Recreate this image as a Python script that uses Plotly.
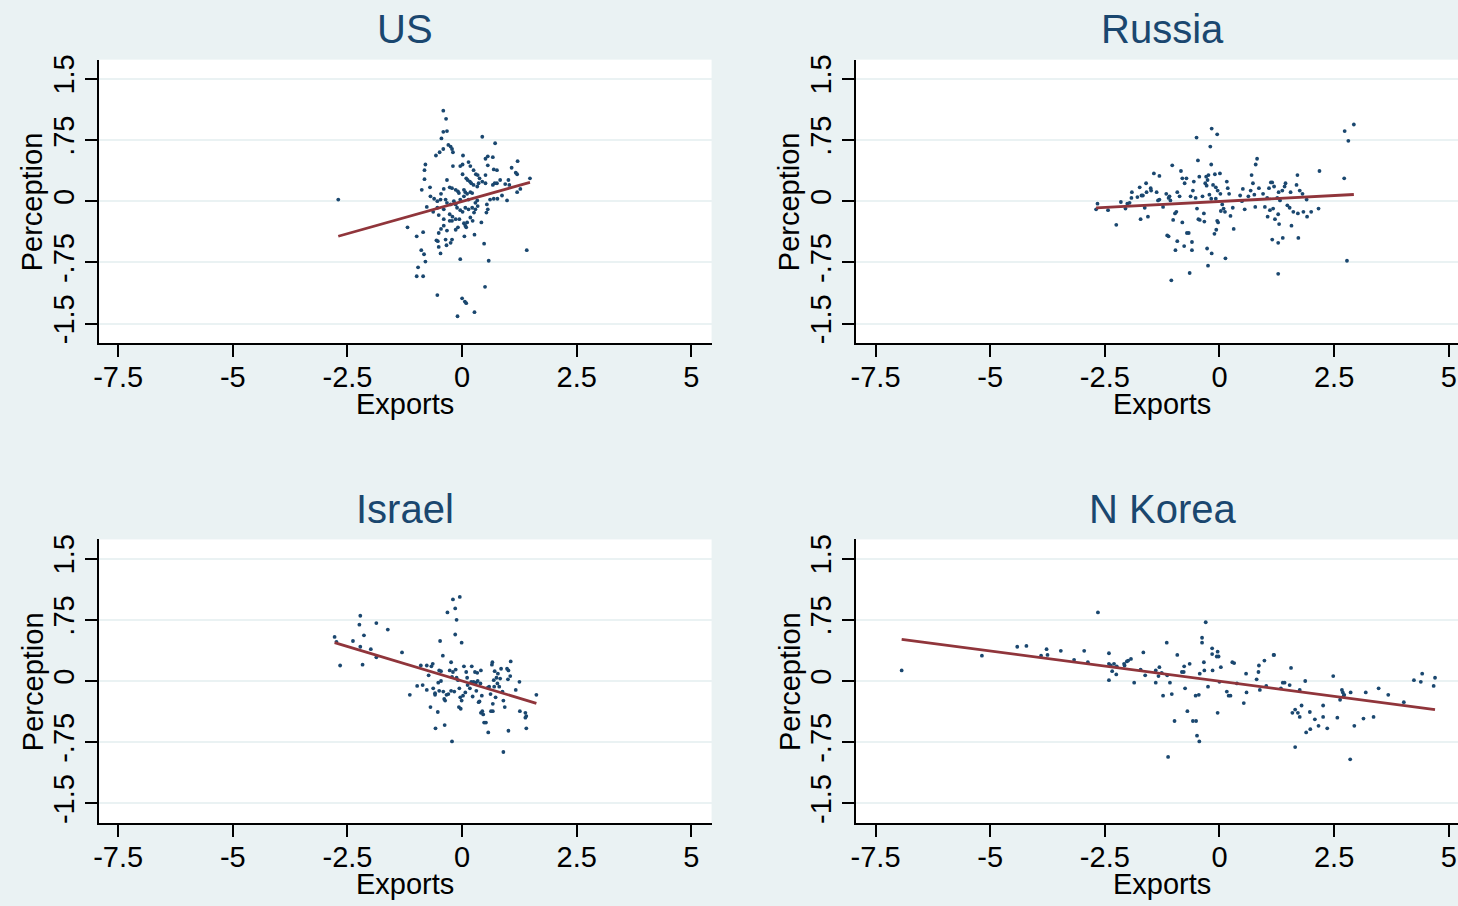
import plotly.graph_objects as go

# ---------------- data ----------------
us_x = [-2.70, -0.41, -0.35, -0.41, -0.33, -0.45, 0.44, 0.72, -0.30, -0.25, -0.22, -0.20, -0.49, -0.41, -0.57, 0.02,
        0.56, 0.67, 0.51, 1.21, -0.80, -0.20, -0.04, 0.01, 0.14, 0.18, 0.56, -0.82, -0.82, 0.25, 0.30, 0.34, 0.69,
        0.76, 1.08, 1.17, 1.20, 0.01, 0.09, 0.12, 0.51, -0.33, 0.17, 0.20, 0.38, 0.25, 0.36, 0.44, 0.33, 0.51, 0.67,
        0.71, 0.76, 0.83, 0.94, 1.03, 1.01, 1.48, 1.27, 1.20, -0.70, -0.88, -0.27, -0.22, -0.40, -0.46, -0.14, -0.09,
        -0.07, 0.04, 0.07, 0.11, 0.18, -0.69, -0.61, -0.54, -0.47, -0.36, -0.33, -0.25, -0.18, -0.14, -0.04, 0.04,
        0.14, 0.22, 0.29, 0.33, 0.61, 0.69, 0.77, 0.87, 0.98, 0.54, 0.56, 0.53, -0.77, -0.63, -0.54, -0.51, -0.40,
        -0.27, -0.21, -0.14, -0.22, -0.27, -0.11, -0.04, 0.01, 0.07, 0.14, 0.22, 0.29, 0.34, 0.26, 0.18, 0.23, -0.06,
        0.04, 0.07, 0.11, 0.09, -0.09, -0.14, 0.05, 0.42, -0.40, -0.40, -0.33, -0.46, -0.51, -1.19, -0.85, -0.99,
        -0.56, -0.53, -0.36, -0.22, -0.25, -0.34, -0.51, 0.27, 0.48, -0.89, -0.83, -0.80, -0.47, -0.04, 0.58, 1.41,
        -0.96, -0.99, -0.85, 0.50, -0.54, 0.00, 0.06, 0.09, 0.27, -0.10]
us_y = [0.02, 1.11, 1.01, 0.85, 0.86, 0.77, 0.79, 0.71, 0.69, 0.67, 0.64, 0.60, 0.60, 0.64, 0.56, 0.56,
        0.55, 0.54, 0.52, 0.49, 0.45, 0.43, 0.43, 0.45, 0.48, 0.43, 0.44, 0.38, 0.27, 0.38, 0.33, 0.32, 0.39,
        0.38, 0.41, 0.35, 0.33, 0.33, 0.28, 0.26, 0.32, 0.26, 0.24, 0.22, 0.28, 0.20, 0.22, 0.24, 0.18, 0.22, 0.20,
        0.22, 0.22, 0.26, 0.21, 0.20, 0.26, 0.28, 0.15, 0.11, 0.17, 0.14, 0.17, 0.16, 0.15, 0.09, 0.14, 0.12,
        0.10, 0.14, 0.11, 0.09, 0.11, 0.06, 0.03, 0.00, 0.02, 0.02, -0.02, -0.04, 0.00, -0.04, 0.02, 0.06,
        0.02, 0.10, -0.02, 0.01, 0.02, 0.03, 0.03, 0.07, 0.01, -0.04, -0.10, -0.14, -0.07, -0.13, -0.08, -0.17, -0.10,
        -0.16, -0.19, -0.22, -0.24, -0.24, -0.08, -0.11, -0.13, -0.08, -0.10, -0.08, -0.10, -0.06, -0.14, -0.20, -0.24, -0.22,
        -0.27, -0.30, -0.26, -0.32, -0.32, -0.35, -0.43, -0.26, -0.22, -0.30, -0.36, -0.34, -0.39, -0.32, -0.38, -0.43,
        -0.48, -0.49, -0.47, -0.47, -0.51, -0.54, -0.56, -0.41, -0.52, -0.60, -0.65, -0.74, -0.64, -0.71, -0.73, -0.60,
        -0.81, -0.92, -0.92, -1.05, -1.15, -1.19, -1.23, -1.25, -1.36, -1.41]

ru_x = [-2.69, -2.66, -2.43, -2.25, -2.15, -2.05, -2.01, -1.96, -1.91, -1.92, -1.79, -1.74, -1.70, -1.67, -1.63, -1.60,
        -1.59, -1.72, -1.56, -1.50, -1.49, -1.43, -1.37, -1.31, -1.34, -1.31, -1.23, -1.16, -1.11, -1.09, -1.07, -1.03,
        -1.01, -0.97, -0.94, -0.92, -0.87, -0.84, -0.81, -0.81, -0.76, -0.72, -1.14, -1.11, -0.92, -0.96, -0.77, -0.71,
        -0.67, -0.60, -0.60, -0.65, -1.05, -0.63, -0.58, -0.56, -0.52, -0.50, -0.47, -0.44, -0.49, -0.46, -0.43, -0.37,
        -0.34, -0.33, -0.31, -0.29, -0.28, -0.26, -0.24, -0.22, -0.20, -0.18, -0.17, -0.18, -0.14, -0.10, -0.08, -0.08,
        -0.05, -0.04, -0.05, -0.03, -0.07, -0.11, 0.01, 0.02, 0.03, 0.06, 0.09, 0.12, 0.16, 0.18, 0.21, 0.24, 0.29, 0.31,
        -0.27, -0.17, -0.25, 0.13, 0.45, 0.49, 0.51, 0.55, 0.63, 0.68, 0.70, 0.73, 0.76, 0.79, 0.82, 0.78, 0.86, 0.95,
        0.99, 1.04, 1.05, 1.08, 1.10, 1.12, 1.15, 1.17, 1.19, 1.21, 1.26, 1.28, 1.29, 1.30, 1.32, 1.37, 1.42, 1.44, 1.48,
        1.53, 1.55, 1.57, 1.61, 1.68, 1.70, 1.71, 1.72, 1.75, 1.81, 1.83, 1.90, 1.91, 2.00, 2.16, 2.18, 1.15, 1.28, 1.38,
        1.28, 2.72, 2.73, 2.81, 2.93, 2.78]
ru_y = [-0.10, -0.03, -0.11, -0.29, -0.01, -0.09, -0.03, -0.02, 0.11, 0.04, 0.05, 0.17, 0.07, 0.07, -0.08, 0.22,
        0.11, -0.22, -0.19, 0.16, 0.13, 0.34, 0.11, 0.31, 0.01, 0.02, -0.07, 0.09, 0.04, 0.06, 0.01, 0.44,
        -0.23, -0.15, -0.13, 0.11, 0.06, 0.37, 0.28, -0.26, 0.22, 0.28, -0.42, -0.43, -0.49, -0.60, -0.55, -0.39,
        -0.39, -0.50, -0.60, -0.88, -0.97, 0.06, 0.13, 0.24, 0.04, 0.78, 0.50, 0.30, -0.09, -0.22, -0.23, 0.06,
        -0.15, -0.25, 0.22, 0.30, 0.19, 0.26, 0.32, 0.08, 0.67, 0.45, 0.89, 0.03, 0.20, 0.33, 0.17, 0.03,
        0.82, 0.13, -0.24, -0.26, -0.35, -0.40, 0.34, 0.09, -0.12, -0.04, -0.09, -0.13, 0.24, 0.16, 0.09, -0.18, -0.08, -0.34,
        -0.58, -0.64, -0.79, -0.70, 0.07, 0.00, 0.15, -0.10, 0.06, 0.13, 0.32, 0.22, 0.08, 0.45, 0.52, -0.07, 0.16, 0.09,
        -0.07, 0.04, -0.19, 0.16, -0.11, 0.23, 0.23, -0.09, 0.18, -0.22, 0.04, -0.16, 0.11, -0.28, 0.01, 0.13, 0.18, 0.22, -0.05,
        -0.08, 0.11, -0.30, -0.13, 0.20, 0.32, -0.15, -0.45, 0.13, 0.09, -0.13, 0.02, -0.19, -0.13, -0.09, 0.37, -0.47, -0.51, -0.45,
        -0.89, 0.28, 0.86, 0.74, 0.94, -0.73]

il_x = [-2.78, -2.74, -2.66, -2.38, -2.22, -2.24, -2.14, -2.22, -2.17, -1.99, -1.87, -1.87, -1.62, -1.31, -1.14, -0.98,
        -0.90, -0.86, -0.77, -0.77, -0.73, -0.67, -0.64, -0.69, -0.63, -0.59, -0.59, -0.53, -0.58, -0.48, -0.42, -0.50,
        -0.46, -0.46, -0.50, -0.52, -0.41, -0.39, -0.34, -0.37, -0.30, -0.27, -0.24, -0.24, -0.22, -0.20, -0.17, -0.14,
        -0.12, -0.09, -0.06, -0.04, -0.07, -0.03, -0.01, 0.02, 0.04, 0.07, 0.09, 0.11, 0.12, 0.17, 0.20, 0.21, 0.23, 0.25,
        0.28, 0.30, 0.31, 0.33, 0.34, 0.36, 0.38, 0.40, 0.41, 0.43, 0.44, 0.41, 0.46, 0.48, 0.52, 0.57, 0.56, 0.59, 0.62,
        0.63, 0.65, 0.66, 0.67, 0.67, 0.69, 0.70, 0.71, 0.73, 0.75, 0.77, 0.78, 0.81, 0.83, 0.85, 0.88, 0.90, 0.93, 0.98,
        1.00, 1.01, 1.05, 1.06, 1.01, 1.17, 1.25, 1.26, 1.38, 1.40, 1.38, 1.40, 1.62, -0.32, -0.20, -0.15, -0.05, -0.12,
        -0.15, -0.01, -0.22, -0.38, 0.90]
il_y = [0.54, 0.48, 0.19, 0.49, 0.80, 0.69, 0.56, 0.42, 0.20, 0.39, 0.71, 0.29, 0.63, 0.35, -0.17, -0.06,
        0.19, -0.05, 0.19, -0.11, 0.07, 0.18, 0.21, -0.32, -0.09, -0.17, -0.15, -0.38, -0.58, 0.49, 0.31, 0.13,
        0.00, 0.12, -0.12, -0.02, -0.13, -0.22, -0.17, -0.24, -0.16, 0.13, 0.23, -0.12, 0.05, 0.11, -0.13, 0.14,
        0.04, 0.01, -0.09, -0.20, -0.32, -0.34, -0.24, -0.18, 0.18, -0.14, 0.11, 0.04, -0.05, -0.09, -0.01, 0.18, -0.19, -0.01,
        0.11, -0.02, -0.12, 0.10, 0.00, -0.26, -0.25, -0.03, 0.13, -0.18, -0.37, -0.39, -0.41, -0.51, -0.51, -0.63, -0.08, -0.07, -0.16,
        -0.37, 0.20, 0.23, -0.37, -0.28, 0.01, -0.07, 0.12, -0.20, 0.04, -0.03, 0.09, -0.07, 0.03, 0.15, -0.13, -0.24, -0.32, 0.15,
        0.02, 0.13, 0.06, 0.24, -0.61, -0.11, -0.01, -0.37, -0.39, -0.43, -0.45, -0.58, -0.17, 0.84, 1.00, 0.89, 1.03, 0.75,
        0.57, 0.47, -0.74, -0.54, -0.87]

nk_x = [-6.93, -5.18, -4.41, -4.21, -3.89, -3.77, -3.75, -3.46, -3.17, -2.95, -2.87, -2.65, -2.41, -2.41, -2.37, -2.34,
        -2.41, -2.30, -2.25, -2.24, -2.08, -2.07, -2.02, -1.99, -1.93, -1.86, -1.72, -1.66, -1.62, -1.39, -1.39, -1.33,
        -1.31, -1.26, -1.23, -1.15, -1.14, -1.08, -1.04, -0.98, -0.92, -0.82, -0.78, -0.77, -0.75, -0.70, -0.65, -0.58,
        -0.51, -0.52, -0.49, -0.45, -0.44, -0.43, -0.38, -0.38, -0.34, -0.33, -0.30, -0.25, -0.16, -0.16, -0.15, -0.06,
        -0.04, -0.04, -0.02, 0.00, 0.03, 0.16, 0.20, 0.24, 0.28, 0.32, 0.38, 0.53, 0.58, 0.59, 0.81, 0.85, 0.86, 0.88,
        0.98, 1.02, 1.18, 1.19, 1.34, 1.38, 1.42, 1.53, 1.56, 1.59, 1.65, 1.65, 1.71, 1.75, 1.75, 1.79, 1.87, 1.89, 1.97,
        1.98, 2.08, 2.16, 2.26, 2.26, 2.35, 2.48, 2.57, 2.63, 2.67, 2.69, 2.71, 2.72, 2.85, 2.86, 2.94, 3.14, 3.19, 3.36,
        3.47, 3.68, 4.02, 4.24, 4.39, 4.42, 4.67, 4.70, -1.12]
nk_y = [0.13, 0.31, 0.42, 0.43, 0.31, 0.39, 0.32, 0.37, 0.26, 0.37, 0.23, 0.84, 0.34, 0.21, 0.19, 0.12,
        0.01, 0.21, 0.08, 0.18, 0.21, 0.19, 0.24, 0.25, 0.27, -0.02, 0.14, 0.35, 0.07, 0.13, -0.02, 0.06,
        0.17, 0.10, -0.18, 0.47, 0.07, -0.02, -0.16, -0.49, 0.32, 0.11, 0.11, 0.18, -0.09, -0.37, 0.21, -0.49,
        -0.49, -0.18, -0.67, -0.17, -0.74, 0.09, 0.47, 0.53, 0.23, 0.13, 0.72, -0.07, 0.40, 0.33, 0.13, 0.30,
        -0.39, 0.36, 0.30, -0.01, 0.17, -0.13, -0.18, -0.18, 0.23, 0.22, -0.03, -0.27, 0.09, -0.14, 0.02, 0.11, 0.19, -0.11,
        0.25, -0.06, 0.32, 0.32, -0.09, -0.02, -0.02, -0.05, 0.16, -0.39, -0.35, -0.81, -0.39, -0.44, -0.11, -0.30, 0.00, -0.63, -0.38,
        -0.59, -0.47, -0.55, -0.30, -0.44, -0.58, 0.06, -0.45, -0.23, -0.11, -0.14, -0.18, -0.17, -0.96, -0.14, -0.55, -0.46, -0.14, -0.44,
        -0.09, -0.17, -0.26, 0.01, -0.01, 0.09, -0.06, 0.04, -0.93]

# fitted lines (intercept, slope)
fit_us = (-0.003, 0.158)
fit_ru = (-0.003, 0.029)
fit_il = (0.000, -0.169)
fit_nk = (-0.003, -0.074)

panel_titles = ["US", "Russia", "Israel", "N Korea"]
x_tick_vals = [-7.5, -5, -2.5, 0, 2.5, 5]
x_tick_text = ["-7.5", "-5", "-2.5", "0", "2.5", "5"]
y_tick_vals = [-1.5, -0.75, 0, 0.75, 1.5]
y_tick_text = ["-1.5", "-.75", "0", ".75", "1.5"]

# ---------------- styling / layout ----------------
W, H = 1458, 906
BG = "#EAF2F3"
NAVY = "#1A476F"
RED = "#90353B"
FONT = "Liberation Sans, Arial, sans-serif"

# pixel geometry of the plot regions
left_px = (93.5, 708.5)
right_px = (853.5, 1458.0)
top_px = (55.0, 340.5)
bot_px = (538.0, 823.5)
x_left_range = [-7.915, 5.440]
x_right_range = [-7.926, 5.201]
y_range = [-1.741, 1.735]

def xdom(p):
    return [p[0] / W, p[1] / W]

def ydom(p):
    return [1 - p[1] / H, 1 - p[0] / H]

panels = [
    (us_x, us_y, fit_us, left_px, top_px, x_left_range),
    (ru_x, ru_y, fit_ru, right_px, top_px, x_right_range),
    (il_x, il_y, fit_il, left_px, bot_px, x_left_range),
    (nk_x, nk_y, fit_nk, right_px, bot_px, x_right_range),
]

fig = go.Figure()
annotations = []
for i, (xs, ys, fit, xp, yp, xr) in enumerate(panels):
    n = "" if i == 0 else str(i + 1)
    xa, ya = "x" + n, "y" + n
    fig.add_trace(go.Scatter(x=xs, y=ys, mode="markers", xaxis=xa, yaxis=ya,
                             marker=dict(color=NAVY, size=3.8, line=dict(width=0)),
                             showlegend=False, hoverinfo="x+y"))
    x0, x1 = min(xs), max(xs)
    fig.add_trace(go.Scatter(x=[x0, x1], y=[fit[0] + fit[1] * x0, fit[0] + fit[1] * x1],
                             mode="lines", xaxis=xa, yaxis=ya,
                             line=dict(color=RED, width=2.8), showlegend=False))
    fig.layout["xaxis" + n] = dict(
        domain=xdom(xp), anchor=ya, range=xr, tickmode="array",
        tickvals=x_tick_vals, ticktext=x_tick_text, showgrid=False, zeroline=False,
        showline=True, linecolor="black", linewidth=1.6, ticks="outside", ticklen=12,
        tickwidth=1.6, tickcolor="black", tickfont=dict(family=FONT, size=29, color="black"),
        ticklabelstandoff=-5)
    fig.layout["yaxis" + n] = dict(
        domain=ydom(yp), anchor=xa, range=y_range, tickmode="array",
        tickvals=y_tick_vals, ticktext=y_tick_text, showgrid=True, gridcolor=BG,
        gridwidth=2.4, zeroline=False, showline=True, linecolor="black", linewidth=1.6,
        ticks="outside", ticklen=12, tickwidth=1.6, tickcolor="black", tickangle=-90,
        tickfont=dict(family=FONT, size=29, color="black"))
    cx = (xp[0] + (xp[0] + 615.0)) / 2
    annotations.append(dict(text=panel_titles[i], x=cx / W, y=1 - (yp[0] - 31) / H,
                            xref="paper", yref="paper", showarrow=False,
                            xanchor="center", yanchor="middle",
                            font=dict(family=FONT, size=40, color=NAVY)))
    annotations.append(dict(text="Exports", x=cx / W, y=1 - (yp[1] + 61.5) / H,
                            xref="paper", yref="paper", showarrow=False,
                            xanchor="center", yanchor="middle",
                            font=dict(family=FONT, size=29, color="black")))
    annotations.append(dict(text="Perception", x=(xp[0] - 66.5) / W,
                            y=1 - ((yp[0] + yp[1]) / 2) / H,
                            xref="paper", yref="paper", showarrow=False, textangle=-90,
                            xanchor="center", yanchor="middle",
                            font=dict(family=FONT, size=29, color="black")))

fig.update_layout(width=W, height=H, paper_bgcolor=BG, plot_bgcolor="white",
                  margin=dict(l=0, r=0, t=0, b=0), annotations=annotations,
                  showlegend=False)

fig.write_html("out.html", config={"displayModeBar": False},
               post_script="document.body.style.margin='0';document.body.style.background='#EAF2F3';")
